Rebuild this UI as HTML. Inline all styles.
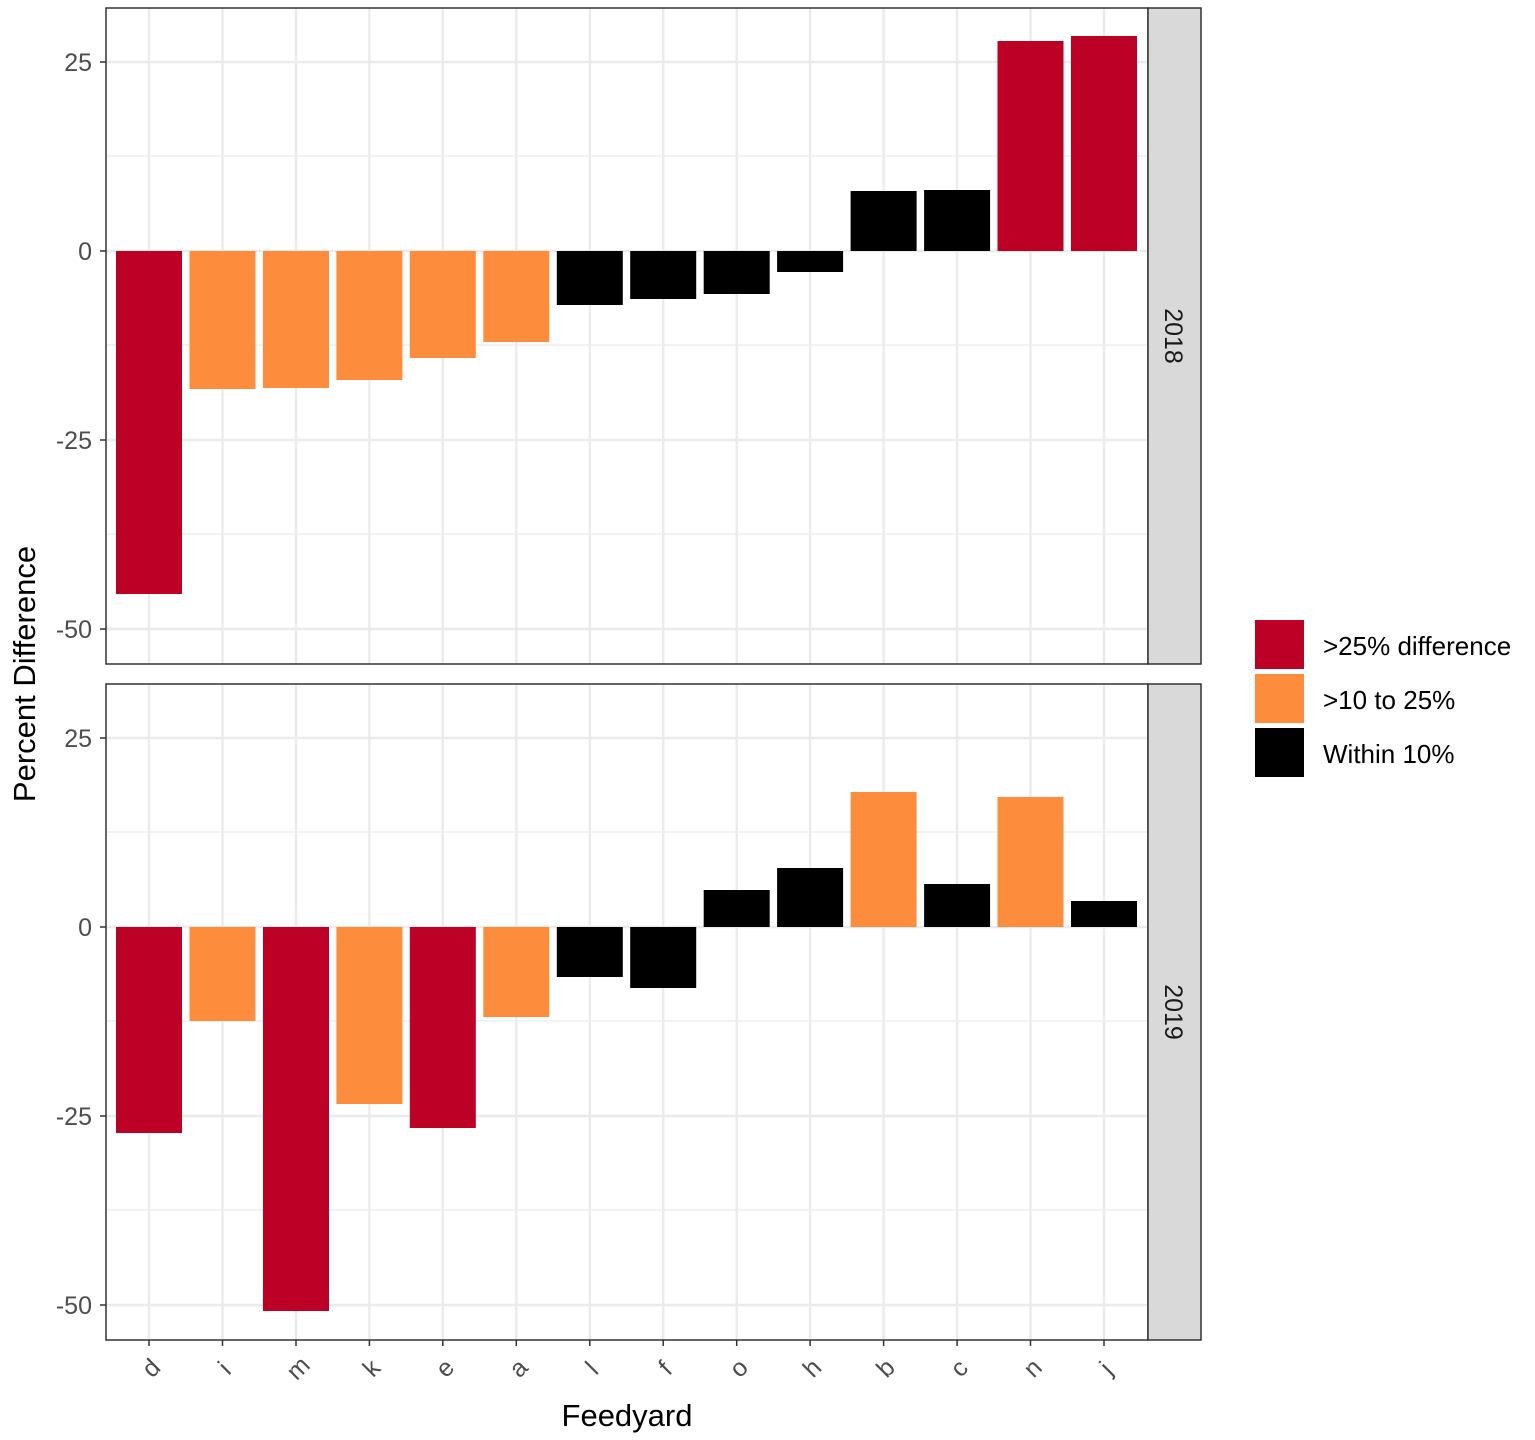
<!DOCTYPE html>
<html><head><style>body{margin:0;background:#fff}svg{display:block}</style></head><body>
<svg width="1535" height="1440" xmlns="http://www.w3.org/2000/svg" font-family="Liberation Sans, sans-serif">
<rect width="1535" height="1440" fill="#fff"/>
<g stroke="#EBEBEB">
<g stroke-width="1.2">
<line x1="106" x2="1148" y1="156" y2="156"/><line x1="106" x2="1148" y1="345" y2="345"/><line x1="106" x2="1148" y1="534" y2="534"/>
<line x1="106" x2="1148" y1="832" y2="832"/><line x1="106" x2="1148" y1="1021" y2="1021"/><line x1="106" x2="1148" y1="1210" y2="1210"/>
</g>
<g stroke-width="2.4">
<line x1="106" x2="1148" y1="62" y2="62"/><line x1="106" x2="1148" y1="251" y2="251"/><line x1="106" x2="1148" y1="440" y2="440"/><line x1="106" x2="1148" y1="629" y2="629"/>
<line x1="106" x2="1148" y1="738" y2="738"/><line x1="106" x2="1148" y1="927" y2="927"/><line x1="106" x2="1148" y1="1116" y2="1116"/><line x1="106" x2="1148" y1="1305" y2="1305"/>
</g>
</g>
<g stroke="#EBEBEB" stroke-width="2.4">
<path d="M149 8V664M222.5 8V664M296 8V664M369.4 8V664M442.8 8V664M516.3 8V664M589.8 8V664M663.2 8V664M736.7 8V664M810.1 8V664M883.6 8V664M957.1 8V664M1030.5 8V664M1104 8V664"/>
<path d="M149 684V1340M222.5 684V1340M296 684V1340M369.4 684V1340M442.8 684V1340M516.3 684V1340M589.8 684V1340M663.2 684V1340M736.7 684V1340M810.1 684V1340M883.6 684V1340M957.1 684V1340M1030.5 684V1340M1104 684V1340"/>
</g>
<g>
<rect x="116" y="251" width="66" height="343" fill="#BD0026"/>
<rect x="189.5" y="251" width="66" height="138" fill="#FD8D3C"/>
<rect x="263" y="251" width="66" height="137" fill="#FD8D3C"/>
<rect x="336.4" y="251" width="66" height="129" fill="#FD8D3C"/>
<rect x="409.8" y="251" width="66" height="107" fill="#FD8D3C"/>
<rect x="483.3" y="251" width="66" height="91" fill="#FD8D3C"/>
<rect x="556.8" y="251" width="66" height="54" fill="#000"/>
<rect x="630.2" y="251" width="66" height="48" fill="#000"/>
<rect x="703.7" y="251" width="66" height="43" fill="#000"/>
<rect x="777.1" y="251" width="66" height="21" fill="#000"/>
<rect x="850.6" y="191" width="66" height="60" fill="#000"/>
<rect x="924.1" y="190" width="66" height="61" fill="#000"/>
<rect x="997.5" y="41" width="66" height="210" fill="#BD0026"/>
<rect x="1071" y="36" width="66" height="215" fill="#BD0026"/>
</g>
<g>
<rect x="116" y="927" width="66" height="206" fill="#BD0026"/>
<rect x="189.5" y="927" width="66" height="94" fill="#FD8D3C"/>
<rect x="263" y="927" width="66" height="384" fill="#BD0026"/>
<rect x="336.4" y="927" width="66" height="177" fill="#FD8D3C"/>
<rect x="409.8" y="927" width="66" height="201" fill="#BD0026"/>
<rect x="483.3" y="927" width="66" height="90" fill="#FD8D3C"/>
<rect x="556.8" y="927" width="66" height="50" fill="#000"/>
<rect x="630.2" y="927" width="66" height="61" fill="#000"/>
<rect x="703.7" y="890" width="66" height="37" fill="#000"/>
<rect x="777.1" y="868" width="66" height="59" fill="#000"/>
<rect x="850.6" y="792" width="66" height="135" fill="#FD8D3C"/>
<rect x="924.1" y="884" width="66" height="43" fill="#000"/>
<rect x="997.5" y="797" width="66" height="130" fill="#FD8D3C"/>
<rect x="1071" y="901" width="66" height="26" fill="#000"/>
</g>
<rect x="106" y="8" width="1042" height="656" fill="none" stroke="#333" stroke-width="1.5"/>
<rect x="106" y="684" width="1042" height="656" fill="none" stroke="#333" stroke-width="1.5"/>
<rect x="1148" y="8" width="53" height="656" fill="#D9D9D9" stroke="#333" stroke-width="1.5"/>
<rect x="1148" y="684" width="53" height="656" fill="#D9D9D9" stroke="#333" stroke-width="1.5"/>
<text transform="translate(1165,336) rotate(90)" text-anchor="middle" font-size="25" fill="#1a1a1a">2018</text>
<text transform="translate(1165,1012) rotate(90)" text-anchor="middle" font-size="25" fill="#1a1a1a">2019</text>
<g stroke="#333" stroke-width="1.5">
<path d="M100 62H106M100 251H106M100 440H106M100 629H106M100 738H106M100 927H106M100 1116H106M100 1305H106"/>
<path d="M149 1340v6M222.5 1340v6M296 1340v6M369.4 1340v6M442.8 1340v6M516.3 1340v6M589.8 1340v6M663.2 1340v6M736.7 1340v6M810.1 1340v6M883.6 1340v6M957.1 1340v6M1030.5 1340v6M1104 1340v6"/>
</g>
<g font-size="25" fill="#4D4D4D" text-anchor="end">
<text x="92" y="71">25</text><text x="92" y="260">0</text><text x="92" y="449">-25</text><text x="92" y="638">-50</text>
<text x="92" y="747">25</text><text x="92" y="936">0</text><text x="92" y="1125">-25</text><text x="92" y="1314">-50</text>
</g>
<g font-size="25" fill="#4D4D4D" text-anchor="middle">
<text transform="translate(157,1374) rotate(-45)">d</text>
<text transform="translate(230.5,1374) rotate(-45)">i</text>
<text transform="translate(304,1374) rotate(-45)">m</text>
<text transform="translate(377.4,1374) rotate(-45)">k</text>
<text transform="translate(450.8,1374) rotate(-45)">e</text>
<text transform="translate(524.3,1374) rotate(-45)">a</text>
<text transform="translate(597.8,1374) rotate(-45)">l</text>
<text transform="translate(671.2,1374) rotate(-45)">f</text>
<text transform="translate(744.7,1374) rotate(-45)">o</text>
<text transform="translate(818.1,1374) rotate(-45)">h</text>
<text transform="translate(891.6,1374) rotate(-45)">b</text>
<text transform="translate(965.1,1374) rotate(-45)">c</text>
<text transform="translate(1038.5,1374) rotate(-45)">n</text>
<text transform="translate(1112,1374) rotate(-45)">j</text>
</g>
<text x="627" y="1426" text-anchor="middle" font-size="31" fill="#000">Feedyard</text>
<text transform="translate(35,674) rotate(-90)" text-anchor="middle" font-size="31" fill="#000">Percent Difference</text>
<rect x="1255" y="620" width="49" height="49" fill="#BD0026"/>
<rect x="1255" y="674" width="49" height="49" fill="#FD8D3C"/>
<rect x="1255" y="728" width="49" height="49" fill="#000"/>
<g font-size="26" fill="#000">
<text x="1323" y="655">&gt;25% difference</text>
<text x="1323" y="709">&gt;10 to 25%</text>
<text x="1323" y="763">Within 10%</text>
</g>
</svg>
</body></html>
